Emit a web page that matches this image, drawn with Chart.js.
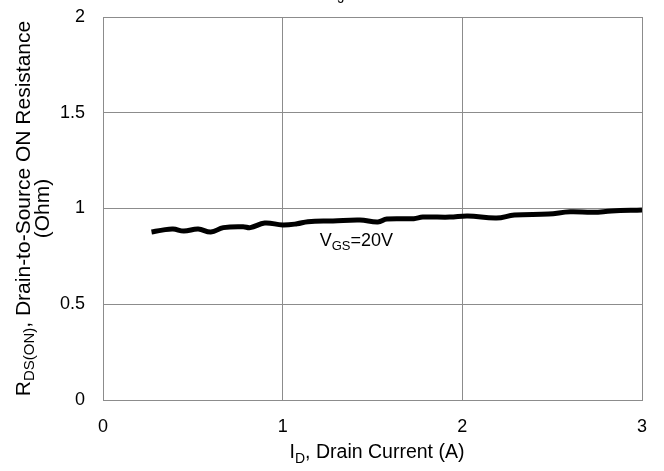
<!DOCTYPE html>
<html>
<head>
<meta charset="utf-8">
<script src="https://cdn.jsdelivr.net/npm/chart.js@4/dist/chart.umd.min.js"></script>
<style>
  html, body { margin: 0; padding: 0; background: #fff; }
  #wrap { width: 664px; height: 471px; }
</style>
</head>
<body>
<div id="wrap"><canvas id="grafico" width="664" height="471"></canvas></div>
<script>
// R_DS(on) x I_D — curva

const correnteA = [0.27, 0.33, 0.39, 0.45, 0.53, 0.60, 0.67, 0.78, 0.82, 0.90, 1.00, 1.08, 1.14,
                   1.28, 1.43, 1.53, 1.58, 1.73, 1.78, 1.93, 2.03, 2.19, 2.29, 2.48, 2.60, 2.73, 2.83, 3.00];
const resistOhm = [0.877, 0.887, 0.893, 0.882, 0.893, 0.877, 0.900, 0.905, 0.900, 0.924, 0.914, 0.920, 0.931,
                   0.935, 0.940, 0.930, 0.945, 0.947, 0.955, 0.955, 0.961, 0.950, 0.966, 0.971, 0.983, 0.980, 0.987, 0.992];

const ticksX = [0, 1, 2, 3];
const ticksY = [0, 0.5, 1, 1.5, 2];

const rotuloCurva = { x: 1.41, y: 0.83, txt: "V", sub: "GS", resto: "=20V" };

const COR_GRID  = "#8c8c8c";
const FONTE     = "'Liberation Sans', Arial, sans-serif";

// texto com subscrito (base, sub, resto) centralizado em cx
function textoSub(ctx, base, sub, resto, cx, cy, tam) {
    const fMain = `${tam}px ${FONTE}`;
    const fSub  = `${Math.round(tam * 0.72)}px ${FONTE}`;
    ctx.font = fMain; const w1 = ctx.measureText(base).width;
    ctx.font = fSub;  const w2 = ctx.measureText(sub).width;
    ctx.font = fMain; const w3 = ctx.measureText(resto).width;
    let x = cx - (w1 + w2 + w3) / 2;
    ctx.textAlign = "left";
    ctx.textBaseline = "middle";
    ctx.font = fMain; ctx.fillText(base, x, cy); x += w1;
    ctx.font = fSub;  ctx.fillText(sub, x, cy + tam * 0.3); x += w2;
    ctx.font = fMain; ctx.fillText(resto, x, cy);
}

const pluginTextos = {
    id: "textos",
    afterDraw(chart) {
        const ctx = chart.ctx;
        const sx = chart.scales.x, sy = chart.scales.y, area = chart.chartArea;
        ctx.save();
        ctx.fillStyle = "#000";

        // rótulo da curva
        textoSub(ctx, rotuloCurva.txt, rotuloCurva.sub, rotuloCurva.resto,
                 sx.getPixelForValue(rotuloCurva.x), sy.getPixelForValue(rotuloCurva.y), 18);

        // título eixo X
        textoSub(ctx, "I", "D", ", Drain Current (A)", 377, 453, 19.5);

        // título eixo Y (rotacionado, 2 linhas)
        const cy = (area.top + area.bottom) / 2;
        ctx.translate(0, cy);
        ctx.rotate(-Math.PI / 2);
        textoSub(ctx, "R", "DS(ON)", ", Drain-to-Source ON Resistance", 0, 24, 21);
        textoSub(ctx, "(Ohm)", "", "", 0, 43, 21);
        ctx.restore();

        // título superior (cortado na borda da imagem)
        ctx.save();
        ctx.fillStyle = "#000";
        textoSub(ctx, "T", "J", "=25°C", 362, -7, 19);
        ctx.restore();
    }
};

new Chart(document.getElementById("grafico"), {
    type: "line",
    data: {
        datasets: [{
            data: correnteA.map((x, i) => ({ x, y: resistOhm[i] })),
            borderColor: "#000",
            borderWidth: 5,
            pointRadius: 0,
            tension: 0.4,
            fill: false,
        }],
    },
    options: {
        responsive: false,
        animation: false,
        layout: { padding: { top: 17, right: 22, left: 0, bottom: 0 } },
        plugins: {
            legend: { display: false },
            tooltip: { enabled: false },
        },
        scales: {
            x: {
                type: "linear",
                min: 0, max: 3,
                afterBuildTicks: s => { s.ticks = ticksX.map(v => ({ value: v })); },
                afterFit: s => { s.height = 71; s.paddingLeft = 0; s.paddingRight = 0; },
                grid: { color: COR_GRID, drawTicks: false },
                border: { color: COR_GRID },
                ticks: { color: "#000", padding: 16, maxRotation: 0, callback: v => String(v),
                         font: { size: 18, family: FONTE } },
            },
            y: {
                type: "linear",
                min: 0, max: 2,
                afterBuildTicks: s => { s.ticks = ticksY.map(v => ({ value: v })); },
                afterFit: s => { s.width = 103; s.paddingTop = 0; s.paddingBottom = 0; },
                grid: { color: COR_GRID, drawTicks: false },
                border: { color: COR_GRID },
                ticks: { color: "#000", padding: 18, callback: v => String(v),
                         font: { size: 18, family: FONTE } },
            },
        },
    },
    plugins: [pluginTextos],
});
</script>
</body>
</html>
